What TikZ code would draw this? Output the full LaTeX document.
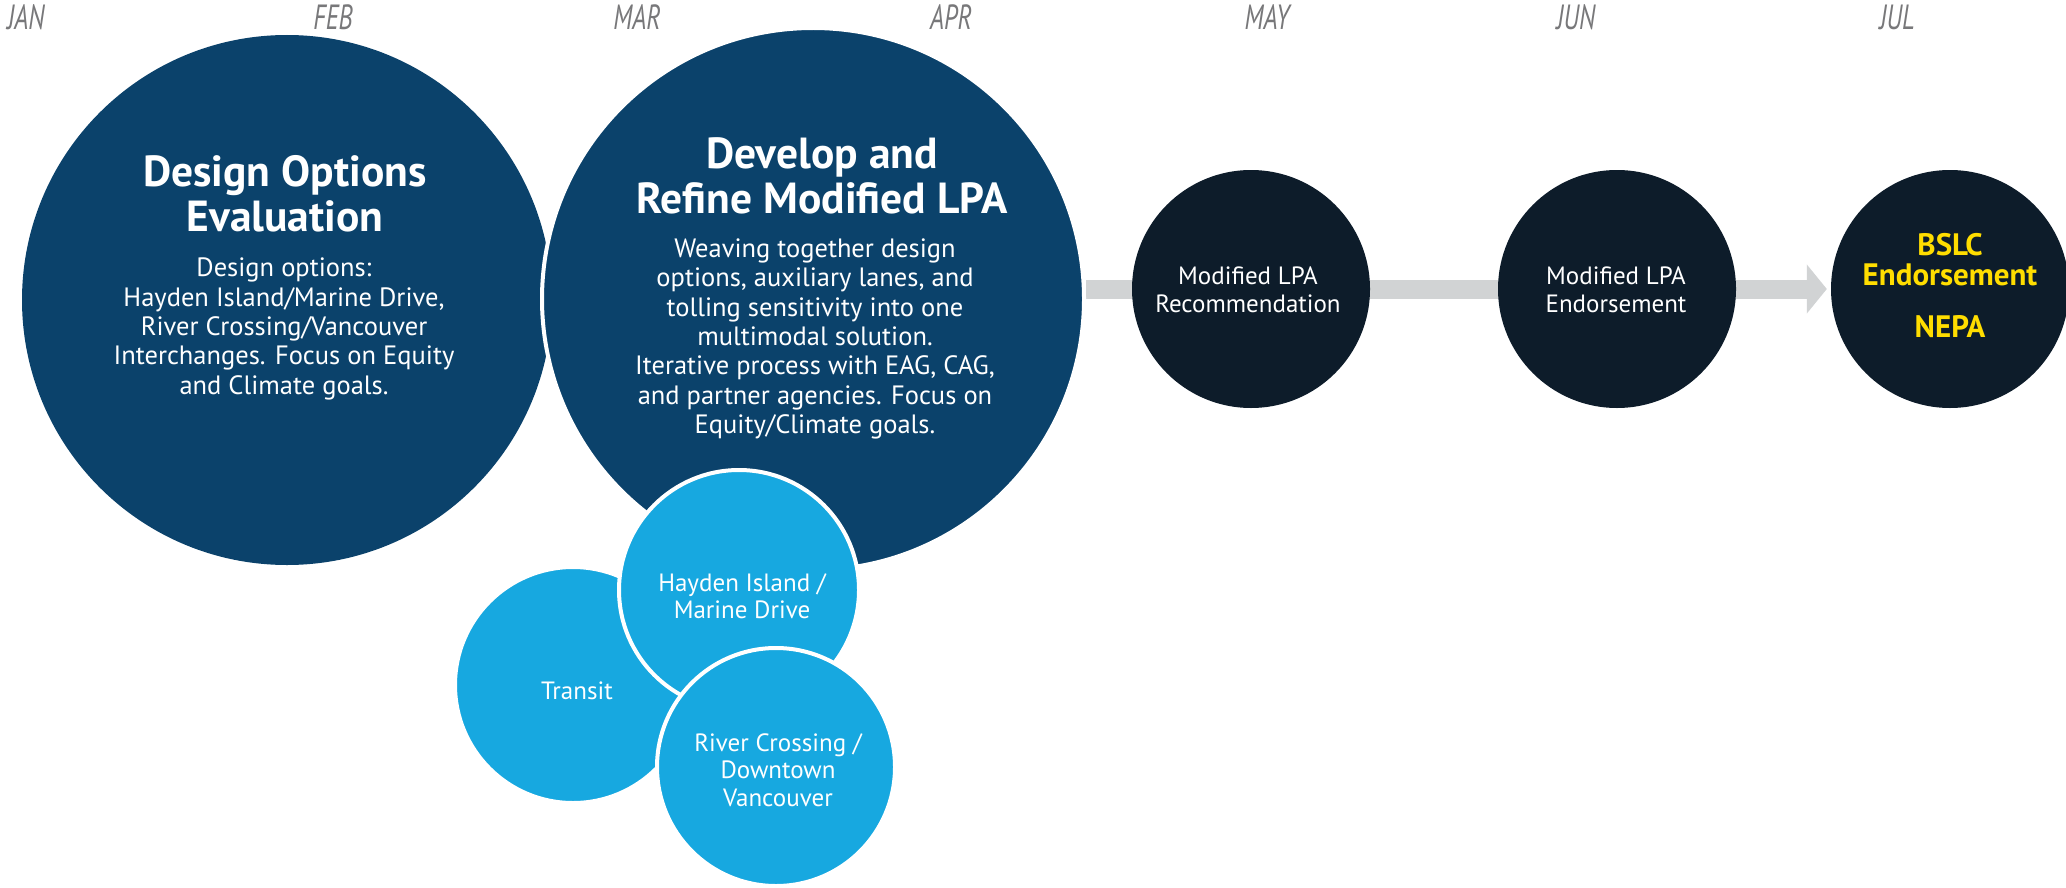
\documentclass[tikz,border=0pt]{standalone}
\usepackage{fontspec}
\setmainfont{PT Sans}
\newfontfamily\monthfont[FakeStretch=0.72]{PT Sans}
\usetikzlibrary{arrows.meta,positioning,backgrounds}
\definecolor{navy}{RGB}{11,66,107}
\definecolor{ink}{RGB}{13,28,42}
\definecolor{sky}{RGB}{23,168,224}
\definecolor{bargray}{RGB}{209,211,212}
\definecolor{monthgray}{RGB}{120,120,122}
\definecolor{gold}{RGB}{255,221,0}
\tikzset{
  >=Stealth,
  month/.style={font=\monthfont\itshape\fontsize{35}{38}\selectfont, text=monthgray, inner sep=0pt},
  phase/.style={circle, fill=navy, inner sep=0pt, minimum size=#1},
  milestone/.style={circle, fill=ink, inner sep=0pt, minimum size=238pt},
  track/.style={circle, fill=sky, draw=white, line width=4pt, inner sep=0pt, minimum size=#1},
  head/.style={font=\bfseries\fontsize{43.5}{45}\selectfont, text=white, align=center, inner sep=0pt},
  body/.style={font=\fontsize{26.5}{29.4}\selectfont, text=white, align=center, inner sep=0pt},
  lbl/.style={font=\fontsize{25}{27.5}\selectfont, text=white, align=center, inner sep=0pt},
  goal/.style={font=\bfseries\fontsize{31}{30}\selectfont, text=gold, align=center, inner sep=0pt},
  timeline/.style={line width=19pt, draw=bargray, -{Triangle[length=20pt,width=48pt]}}
}

\begin{document}
\begin{tikzpicture}[x=1pt,y=-1pt]
    \useasboundingbox (0,0) rectangle (2066,888);

    % Months
    \foreach \m/\x in {JAN/26, FEB/333, MAR/637, APR/951, MAY/1267, JUN/1576, JUL/1897}
      \node[month] (\m) at (\x,17) {\m};

    % Phase circles
    \node[phase=530pt] (evaluation) at (287,300) {};
    \node[phase=542pt, draw=white, line width=4pt] (develop) at (813,299) {};

    \node[head] (evaluationhead) at (285,194) {Design Options\\Evaluation};
    \node[body] (evaluationbody) at (284,329) {Design options:\\
      Hayden Island/Marine Drive,\\
      River Crossing/Vancouver\\
      Interchanges. Focus on Equity\\
      and Climate goals.};

    \node[head] (develophead) at (822,176) {Develop and\\Refine Modified LPA};
    \node[body] (developbody) at (815,339) {Weaving together design\\
      options, auxiliary lanes, and\\
      tolling sensitivity into one\\
      multimodal solution.\\
      Iterative process with EAG, CAG,\\
      and partner agencies. Focus on\\
      Equity/Climate goals.};

    % Sub-area circles
    \node[track=236pt] (transit) at (573,685) {};
    \node[track=240pt] (hayden) at (739,590) {};
    \node[track=238pt] (crossing) at (776,767) {};

    \node[lbl] (transitlbl) at (577,691) {Transit};
    \node[lbl] (haydenlbl) at (742,596) {Hayden Island /\\Marine Drive};
    \node[lbl] (crossinglbl) at (778,770) {River Crossing /\\Downtown\\Vancouver};

    % Milestones
    \node[milestone] (recommend) at (1251,289) {};
    \node[milestone] (endorse) at (1617,289) {};
    \node[milestone] (bslc) at (1950,289) {};

    \node[lbl] (recommendlbl) at (1248,290) {Modified LPA\\Recommendation};
    \node[lbl] (endorselbl) at (1616,290) {Modified LPA\\Endorsement};
    \node[goal] (bslclbl) at (1950,260) {BSLC\\Endorsement};
    \node[goal] (nepa) at (1950,327) {NEPA};

    % Timeline bar behind the milestones
    \begin{scope}[on background layer]
      \draw[timeline] (develop.east |- recommend.center) -- ([xshift=-4pt]bslc.west);
    \end{scope}

\end{tikzpicture}
\end{document}
